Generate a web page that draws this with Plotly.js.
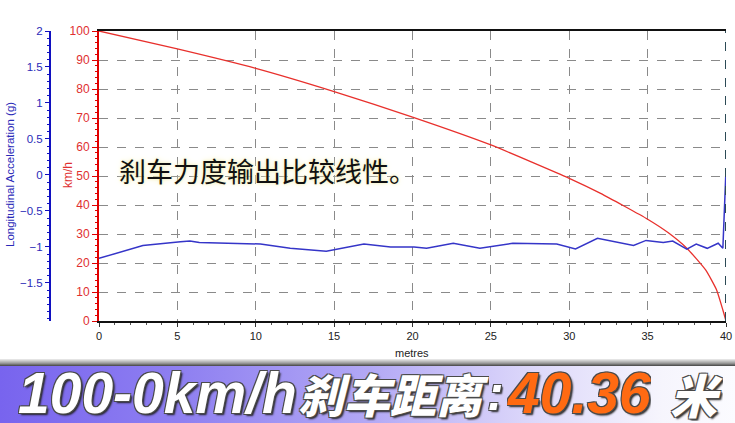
<!DOCTYPE html>
<html><head><meta charset="utf-8">
<script src="https://cdn.plot.ly/plotly-3.0.1.min.js"></script>
<style>
html,body{margin:0;padding:0;background:#fff;}
#chart{width:735px;height:423px;
background:
 linear-gradient(to right,#7864ee 0%,#8f80f1 25%,#b2a8f5 50%,#dcd7fa 72%,#f6f5fd 90%,#fbfbff 100%) 0 366px/100% 57px no-repeat,
 linear-gradient(to bottom,#eeeeee,#9a9a9a 60%,#444) 0 359px/100% 7px no-repeat,
 #ffffff;}
</style>
</head><body>
<div id="chart"></div>
<script>
// ---- data ----
const distSpeed = [0, 5, 10, 15, 20, 25, 30, 32, 35, 36.3, 37.5, 38.7, 39.4, 39.8, 40];
const speedKmh  = [100, 93.8, 87.1, 79.1, 70.3, 60.7, 49.2, 44.0, 35.1, 30.5, 25.1, 17.6, 10.7, 3.8, 0];
const distAcc = [0, 2.8, 5.2, 5.8, 6.4, 9.0, 10.3, 12.2, 13.2, 14.5, 16.9, 18.6, 20.1, 20.9, 22.6, 24.3, 26.4, 29.2, 30.4, 31.8, 34.1, 34.9, 36.0, 36.6, 37.5, 38.1, 38.8, 39.5, 39.8, 40.0];
const accG    = [-1.16, -0.98, -0.93, -0.92, -0.94, -0.96, -0.96, -1.02, -1.04, -1.06, -0.96, -1.00, -1.00, -1.02, -0.95, -1.02, -0.95, -0.96, -1.03, -0.88, -0.98, -0.91, -0.94, -0.92, -1.03, -0.96, -1.02, -0.95, -1.02, 0.08];
const xTicks = [0, 5, 10, 15, 20, 25, 30, 35, 40];
const speedTicks = [0, 10, 20, 30, 40, 50, 60, 70, 80, 90, 100];
const accTicks = [-1.5, -1, -0.5, 0, 0.5, 1, 1.5, 2];
const xTitle = "metres";
const speedTitle = "km/h";
const accTitle = "Longitudinal Acceleration (g)";
const note = "刹车力度输出比较线性。";
const bannerA = "100-0km/h";
const bannerCJK = "刹车距离";
const bannerColon = ":";
const bannerB = "40.36";
const bannerC = "米";

// ---- layout helpers (pixel -> paper) ----
const L = 40, T = 31, W = 686, H = 290;
const px = p => (p - L) / W;
const py = p => (T + H - p) / H;

const traces = [
  {x: distSpeed, y: speedKmh, type: 'scatter', mode: 'lines', yaxis: 'y',
   line: {color: '#e8302c', width: 1.3, shape: 'spline', smoothing: 0.5}, hoverinfo: 'skip'},
  {x: distAcc, y: accG, type: 'scatter', mode: 'lines', yaxis: 'y2',
   line: {color: '#3535c8', width: 1.5}, hoverinfo: 'skip'}
];

const outline = '-1px -1px 0 #4a4a4a, 1px -1px 0 #4a4a4a, -1px 1px 0 #4a4a4a, 1px 1px 0 #4a4a4a, 2px 2px 2px #222';

function bannerText(txt, xPix, size, color, family, weight) {
  return {text: '<i>' + txt + '</i>', xref: 'paper', yref: 'paper', x: px(xPix), y: py(393),
    xanchor: 'left', yanchor: 'middle', valign: 'middle', height: 56, showarrow: false,
    font: {size: size, color: color, family: family, weight: weight, shadow: outline}};
}

const layout = {
  width: 735, height: 423,
  margin: {l: L, r: 735 - L - W, t: T, b: 423 - T - H},
  paper_bgcolor: 'rgba(0,0,0,0)', plot_bgcolor: '#ffffff',
  showlegend: false,
  font: {family: 'Liberation Sans, Arial, sans-serif'},
  xaxis: {
    domain: [px(99), 1], range: [0, 40], tickvals: xTicks, ticktext: xTicks.map(String),
    showline: true, linecolor: '#111', linewidth: 2, mirror: true,
    ticks: 'outside', ticklen: 4, tickcolor: '#333',
    minor: {dtick: 1, ticks: 'outside', ticklen: 2, tickcolor: '#555', showgrid: false},
    showgrid: true, gridcolor: '#8a8a8a', griddash: 'dash', gridwidth: 1,
    zeroline: false, tickfont: {size: 11, color: '#222'}
  },
  yaxis: {
    range: [0, 100], tickvals: speedTicks,
    showline: true, linecolor: '#e00000', linewidth: 2,
    ticks: 'outside', ticklen: 5, tickcolor: '#e00000',
    minor: {dtick: 2, ticks: 'outside', ticklen: 2, tickcolor: '#e00000', showgrid: false},
    showgrid: true, gridcolor: '#8a8a8a', griddash: 'dash', gridwidth: 1,
    zeroline: false, tickfont: {size: 12, color: '#e03030'}
  },
  yaxis2: {
    overlaying: 'y', side: 'left', anchor: 'free', position: px(50),
    range: [-2.03, 2], tickvals: accTicks,
    showline: true, linecolor: '#1010c0', linewidth: 2,
    ticks: 'outside', ticklen: 4, tickcolor: '#1010c0',
    minor: {dtick: 0.1, ticks: 'outside', ticklen: 2, tickcolor: '#1010c0', showgrid: false},
    showgrid: false, zeroline: false, tickfont: {size: 11.5, color: '#2a2ab8'}
  },
  shapes: [
    {type: 'line', xref: 'x', yref: 'paper', x0: 40, x1: 40, y0: 0, y1: 1,
     line: {color: '#2c4a55', width: 2, dash: 'dash'}}
  ],
  annotations: [
    {text: xTitle, xref: 'paper', yref: 'paper', x: px(412), y: py(353), xanchor: 'center', yanchor: 'middle', showarrow: false,
     font: {size: 11, color: '#222'}},
    {text: speedTitle, xref: 'paper', yref: 'paper', x: px(68), y: py(175), xanchor: 'center', yanchor: 'middle', textangle: -90, showarrow: false,
     font: {size: 12, color: '#e03030'}},
    {text: accTitle, xref: 'paper', yref: 'paper', x: px(10), y: py(175), xanchor: 'center', yanchor: 'middle', textangle: -90, showarrow: false,
     font: {size: 11.5, color: '#2a2ab8'}},
    {text: note, xref: 'paper', yref: 'paper', x: px(117), y: py(170), xanchor: 'left', yanchor: 'middle', showarrow: false,
     font: {size: 27, color: '#111', family: 'Noto Sans CJK SC', shadow: '0 0 3px #f3eeb0, 0 0 6px #f7f3c8'}},
    bannerText(bannerA, 16, 57, '#ffffff', 'Liberation Sans', 700),
    bannerText(bannerCJK, 296, 46, '#ffffff', 'Noto Sans CJK SC', 900),
    bannerText(bannerColon, 485, 50, '#ffffff', 'Liberation Sans', 700),
    bannerText(bannerB, 505, 57, '#ff6a12', 'Liberation Sans', 700),
    bannerText(bannerC, 668, 47, '#ffffff', 'Noto Sans CJK SC', 900)
  ]
};

Plotly.newPlot('chart', traces, layout, {displayModeBar: false, staticPlot: true});
</script>
</body></html>
